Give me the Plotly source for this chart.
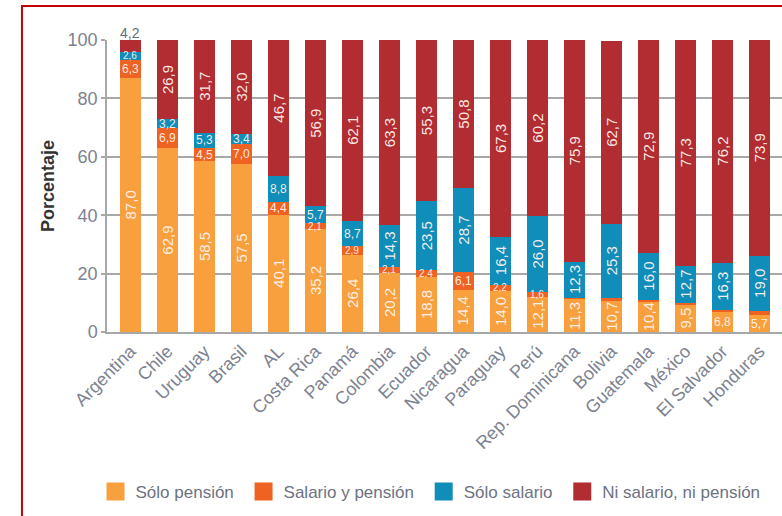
import plotly.graph_objects as go

countries = ["Argentina", "Chile", "Uruguay", "Brasil", "AL", "Costa Rica", "Panamá",
             "Colombia", "Ecuador", "Nicaragua", "Paraguay", "Perú", "Rep. Dominicana",
             "Bolivia", "Guatemala", "México", "El Salvador", "Honduras"]
solo_pension = [87.0, 62.9, 58.5, 57.5, 40.1, 35.2, 26.4, 20.2, 18.8, 14.4, 14.0, 12.1, 11.3, 10.7, 10.4, 9.5, 6.8, 5.7]
salario_pension = [6.3, 6.9, 4.5, 7.0, 4.4, 2.1, 2.9, 2.1, 2.4, 6.1, 2.2, 1.6, 0.5, 1.0, 0.7, 0.5, 0.7, 1.4]
solo_salario = [2.6, 3.2, 5.3, 3.4, 8.8, 5.7, 8.7, 14.3, 23.5, 28.7, 16.4, 26.0, 12.3, 25.3, 16.0, 12.7, 16.3, 19.0]
ni_salario = [4.2, 26.9, 31.7, 32.0, 46.7, 56.9, 62.1, 63.3, 55.3, 50.8, 67.3, 60.2, 75.9, 62.7, 72.9, 77.3, 76.2, 73.9]

series = [
    ("Sólo pensión", solo_pension, "#F7A03D"),
    ("Salario y pensión", salario_pension, "#EE6322"),
    ("Sólo salario", solo_salario, "#108DB8"),
    ("Ni salario, ni pensión", ni_salario, "#B22D31"),
]

FONT = "Liberation Sans, Arial, sans-serif"
TICKC = "#7d8290"
GRID = "#a8a8a8"

fig = go.Figure()
for name, vals, col in series:
    fig.add_trace(go.Bar(x=countries, y=vals, name=name, marker=dict(color=col, line=dict(width=0)),
                         showlegend=False, hoverinfo="skip"))
# legend proxies (bigger swatches)
for name, vals, col in series:
    fig.add_trace(go.Scatter(x=[None], y=[None], mode="markers", name=name + "\u00a0",
                             marker=dict(symbol="square", size=16, color=col, line=dict(color=col, width=2)),
                             showlegend=True))

def fmt(v):
    return f"{v:.1f}".replace(".", ",")

annotations = []
base = [0.0] * len(countries)
for si, (name, vals, col) in enumerate(series):
    for i, v in enumerate(vals):
        mid = base[i] + v / 2
        if si == 3 and v < 5:
            annotations.append(dict(x=countries[i], y=min(base[i] + v, 100), text=fmt(v), showarrow=False,
                                    yanchor="bottom", yshift=-3,
                                    font=dict(family=FONT, size=14, color="#5f6b80")))
        elif v >= 1.5:
            rot = v >= 9
            size = 15 if rot else (12 if v >= 3 else 10)
            annotations.append(dict(x=countries[i], y=mid, text=fmt(v), showarrow=False,
                                    textangle=-90 if rot else 0,
                                    font=dict(family=FONT, size=size,
                                              color="rgba(255,244,240,0.95)")))
        base[i] += v

fig.update_layout(
    barmode="stack",
    bargap=0.42,
    width=782, height=516,
    margin=dict(l=107, r=0, t=40, b=184, autoexpand=False),
    paper_bgcolor="white", plot_bgcolor="white",
    font=dict(family=FONT, color=TICKC),
    annotations=annotations,
    legend=dict(orientation="h", traceorder="normal", x=-0.017, xanchor="left", y=-0.548, yanchor="middle",
                font=dict(family=FONT, size=17, color="#6d7282"),
                itemwidth=30, tracegroupgap=0),
    shapes=[dict(type="rect", xref="paper", yref="paper", x0=-0.126, x1=1.3, y0=-0.9, y1=1.1164,
                 line=dict(color="#C40000", width=2), fillcolor="rgba(0,0,0,0)", layer="below")],
)
fig.update_xaxes(type="category", range=[-0.635, 17.61], tickangle=-45, automargin=False,
                 tickfont=dict(family=FONT, size=18, color=TICKC),
                 showline=True, linecolor=GRID, linewidth=1.5, showgrid=False, ticks="")
fig.update_yaxes(range=[0, 100], tickvals=[0, 20, 40, 60, 80, 100], automargin=False,
                 tickfont=dict(family=FONT, size=18, color=TICKC),
                 showgrid=True, gridcolor=GRID, gridwidth=1.5,
                 showline=True, linecolor=GRID, linewidth=1.5,
                 ticks="outside", ticklen=4, tickcolor=GRID, tickwidth=1.5,
                 zeroline=False,
                 title=dict(text="<b>Porcentaje</b>", standoff=8,
                            font=dict(family=FONT, size=18, color="#333333")))

fig.write_html("out.html", config={"displayModeBar": False},
               post_script="document.body.style.margin='0px';document.body.style.overflow='hidden';")
